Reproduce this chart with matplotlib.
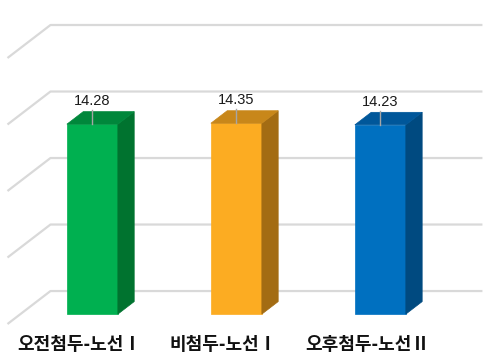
import matplotlib
matplotlib.use("Agg")
import matplotlib.pyplot as plt

categories = ["오전첨두-노선Ⅰ", "비첨두-노선Ⅰ", "오후첨두-노선Ⅱ"]
values = [14.28, 14.35, 14.23]
value_labels = ["14.28", "14.35", "14.23"]
grid_values = [0, 5, 10, 15, 20]

front_colors = ["#00B050", "#FCAC22", "#0070C0"]
side_colors = ["#00732F", "#A36C13", "#004A80"]
top_colors = ["#00873B", "#C8871A", "#00579A"]

plt.rcParams['font.family'] = ['Noto Sans CJK KR', 'DejaVu Sans']

fig = plt.figure(figsize=(4.92, 3.61), dpi=100)
ax = fig.add_axes([0, 0, 1, 1])
ax.set_xlim(-0.552, 2.865)
ax.set_ylim(-2.78, 24.36)
ax.axis("off")

# oblique depth offsets (full depth) in data units
DX, DY = 0.2986, 2.48
def P(x, v, z):
    return x + z * DX, v + z * DY

x_left, x_right = -0.5, 2.5
grid_c = "#D9D9D9"
for g in grid_values:
    a = P(x_left, g, 0)
    b = P(x_left, g, 1)
    c = P(x_right, g, 1)
    ax.plot([a[0], b[0], c[0]], [a[1], b[1], c[1]], color=grid_c, lw=1.6,
            solid_capstyle="butt", zorder=1)

hw = 0.177
z0, z1 = 0.30, 0.68
for i, (v, lab) in enumerate(zip(values, value_labels)):
    xl, xr = i - hw, i + hw
    # front face
    pts = [P(xl, 0, z0), P(xr, 0, z0), P(xr, v, z0), P(xl, v, z0)]
    ax.fill([p[0] for p in pts], [p[1] for p in pts], color=front_colors[i],
            ec=front_colors[i], lw=0.5, zorder=3)
    # side face
    pts = [P(xr, 0, z0), P(xr, 0, z1), P(xr, v, z1), P(xr, v, z0)]
    ax.fill([p[0] for p in pts], [p[1] for p in pts], color=side_colors[i],
            ec=side_colors[i], lw=0.5, zorder=3)
    # top face
    pts = [P(xl, v, z0), P(xr, v, z0), P(xr, v, z1), P(xl, v, z1)]
    ax.fill([p[0] for p in pts], [p[1] for p in pts], color=top_colors[i],
            ec=top_colors[i], lw=0.5, zorder=3)
    # leader line + label
    fx, fy = P(i, v, z0)
    ax.plot([fx, fx], [fy, fy + 1.05], color="#A6A6A6", lw=1.0, zorder=4)
    ax.text(fx, fy + 1.75, lab, ha="center", va="center", fontsize=10.5,
            family=["Liberation Sans", "DejaVu Sans"], color="#1a1a1a", zorder=5)
    # category label
    cx, cy = P(i, 0, 0)
    ax.text(cx, cy - 1.55, categories[i], ha="center", va="center",
            fontsize=13, fontweight="bold", color="#111111", zorder=5)

fig.savefig("out.png", dpi=100)
